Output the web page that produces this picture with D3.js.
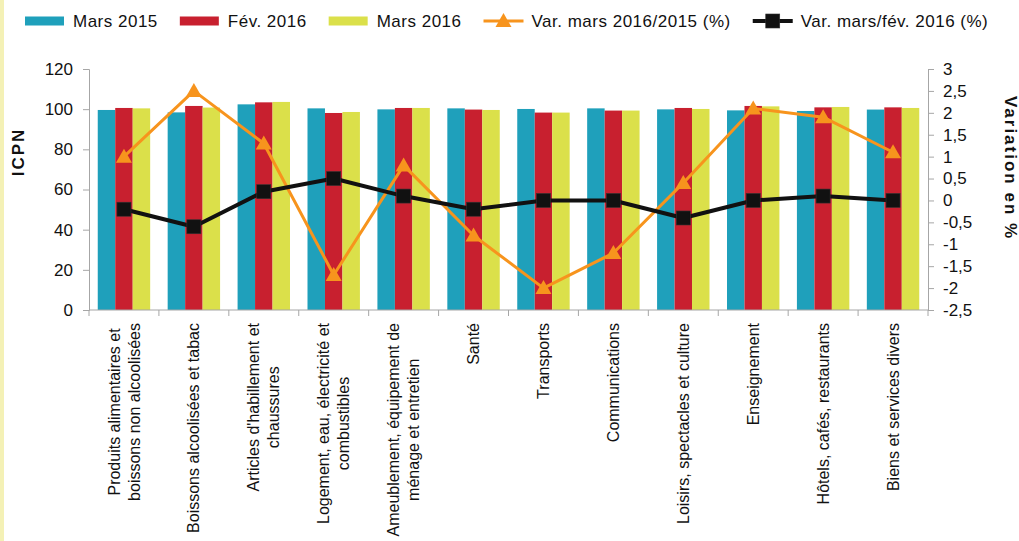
<!DOCTYPE html>
<html>
<head>
<meta charset="utf-8">
<script src="https://cdn.jsdelivr.net/npm/d3@7"></script>
<style>
  body { margin: 0; background: #fff; }
  svg { display: block; font-family: "Liberation Sans", Arial, sans-serif; }
</style>
</head>
<body>
<svg id="chart" width="1019" height="541"></svg>
<script>
var categories = [
    "Produits alimentaires et\nboissons non alcoolisées",
    "Boissons alcoolisées et tabac",
    "Articles d'habillement et\nchaussures",
    "Logement, eau, électricité et\ncombustibles",
    "Ameublement, équipement de\nménage et entretien",
    "Santé",
    "Transports",
    "Communications",
    "Loisirs, spectacles et culture",
    "Enseignement",
    "Hôtels, cafés, restaurants",
    "Biens et services divers"
];
var mars2015 = [99.6, 98.4, 102.4, 100.4, 99.9, 100.4, 100.1, 100.4, 99.9, 99.4, 99.1, 99.8];
var fev2016 = [100.6, 101.6, 103.4, 98.1, 100.6, 99.8, 98.3, 99.3, 100.6, 101.6, 100.9, 100.9];
var mars2016 = [100.4, 100.8, 103.6, 98.6, 100.6, 99.6, 98.3, 99.3, 100.1, 101.4, 101.1, 100.6];
var varAnnuelle = [1.0, 2.5, 1.3, -1.7, 0.8, -0.8, -2.0, -1.2, 0.4, 2.1, 1.9, 1.1];
var varMensuelle = [-0.2, -0.6, 0.2, 0.5, 0.1, -0.2, 0.0, 0.0, -0.4, 0.0, 0.1, 0.0];
var leftTicks = [0, 20, 40, 60, 80, 100, 120];
var rightTicks = [-2.5, -2, -1.5, -1, -0.5, 0, 0.5, 1, 1.5, 2, 2.5, 3];

var barSeries = [
    { name: "Mars 2015", values: mars2015, color: "#1fa0bb" },
    { name: "Fév. 2016", values: fev2016, color: "#c8202f" },
    { name: "Mars 2016", values: mars2016, color: "#dbe04a" }
];
var lineSeries = [
    { name: "Var. mars 2016/2015 (%)", values: varAnnuelle, color: "#f7941d", width: 3, marker: "triangle" },
    { name: "Var. mars/fév. 2016 (%)", values: varMensuelle, color: "#111111", width: 4, marker: "square" }
];

var svg = d3.select("#chart"),
    axisColor = "#a6a6a6",
    plot = { x0: 89, x1: 928, y0: 69, y1: 310 };

function frNum(d) {
    return String(d).replace(".", ",");
}

// pale strip on the left edge
svg.append("rect").attr("x", 0).attr("y", 0).attr("width", 4).attr("height", 541).attr("fill", "#f4f1b6");

var x = d3.scaleBand().domain(d3.range(categories.length)).range([plot.x0, plot.x1]);
var xSub = d3.scaleBand().domain(d3.range(barSeries.length))
    .range([8.75, x.bandwidth() - 8.75]);
var yLeft = d3.scaleLinear().domain([0, 120]).range([plot.y1, plot.y0]);
var yRight = d3.scaleLinear().domain([-2.5, 3]).range([plot.y1, plot.y0]);

// bars
barSeries.forEach(function (s, si) {
    svg.append("g").selectAll("rect")
        .data(s.values)
        .join("rect")
        .attr("x", function (d, i) { return x(i) + xSub(si); })
        .attr("y", function (d) { return yLeft(d); })
        .attr("width", xSub.bandwidth())
        .attr("height", function (d) { return yLeft(0) - yLeft(d); })
        .attr("fill", s.color);
});

// left axis
var gl = svg.append("g")
    .attr("transform", "translate(" + plot.x0 + ",0)")
    .call(d3.axisLeft(yLeft).tickValues(leftTicks).tickSize(6).tickPadding(10));
// right axis
var gr = svg.append("g")
    .attr("transform", "translate(" + plot.x1 + ",0)")
    .call(d3.axisRight(yRight).tickValues(rightTicks).tickSize(6).tickPadding(9).tickFormat(frNum));
// x axis
var gx = svg.append("g")
    .attr("transform", "translate(0," + plot.y1 + ")");
gx.append("line").attr("x1", plot.x0).attr("x2", plot.x1).attr("stroke", axisColor);
gx.selectAll("line.tick")
    .data(d3.range(categories.length + 1))
    .join("line")
    .attr("class", "tick")
    .attr("x1", function (i) { return plot.x0 + i * x.step(); })
    .attr("x2", function (i) { return plot.x0 + i * x.step(); })
    .attr("y1", 0).attr("y2", 6)
    .attr("stroke", axisColor);

[gl, gr].forEach(function (g) {
    g.select(".domain").attr("stroke", axisColor);
    g.selectAll(".tick line").attr("stroke", axisColor);
    g.selectAll(".tick text").attr("font-size", 17).attr("fill", "#111").attr("font-family", "Liberation Sans, Arial, sans-serif");
});

// category labels, rotated, lines centered, block ending under the axis
categories.forEach(function (c, i) {
    var lines = c.split("\n"),
        cx = x(i) + x.bandwidth() / 2,
        pitch = 20,
        g = svg.append("g").attr("transform", "translate(" + cx + "," + (plot.y1 + 13) + ") rotate(-90)");
    var texts = lines.map(function (l, k) {
        return g.append("text")
            .attr("y", (k - (lines.length - 1) / 2) * pitch)
            .attr("dy", "0.35em")
            .attr("text-anchor", "middle")
            .attr("font-size", 16)
            .attr("fill", "#111")
            .text(l);
    });
    var maxW = d3.max(texts, function (t) { return t.node().getComputedTextLength(); });
    texts.forEach(function (t) { t.attr("x", -maxW / 2); });
});

// lines and markers
function drawMarker(g, type, color, cx, cy) {
    if (type === "triangle") {
        g.append("path")
            .attr("d", "M" + cx + "," + (cy - 8) + "L" + (cx + 8) + "," + (cy + 6) + "L" + (cx - 8) + "," + (cy + 6) + "Z")
            .attr("fill", color);
    } else {
        g.append("rect")
            .attr("x", cx - 7).attr("y", cy - 7)
            .attr("width", 14).attr("height", 14)
            .attr("fill", color).attr("stroke", "#333").attr("stroke-width", 0.6);
    }
}

lineSeries.forEach(function (s) {
    var g = svg.append("g");
    var line = d3.line()
        .x(function (d, i) { return x(i) + x.bandwidth() / 2; })
        .y(function (d) { return yRight(d); });
    g.append("path")
        .attr("d", line(s.values))
        .attr("fill", "none")
        .attr("stroke", s.color)
        .attr("stroke-width", s.width)
        .attr("stroke-linejoin", "round");
    s.values.forEach(function (d, i) {
        drawMarker(g, s.marker, s.color, x(i) + x.bandwidth() / 2, yRight(d));
    });
});

// axis titles
svg.append("text")
    .attr("transform", "translate(24,152) rotate(-90)")
    .attr("text-anchor", "middle")
    .attr("font-size", 17).attr("font-weight", "bold").attr("letter-spacing", 2)
    .attr("fill", "#111")
    .text("ICPN");
svg.append("text")
    .attr("transform", "translate(1005,168) rotate(90)")
    .attr("text-anchor", "middle")
    .attr("font-size", 17).attr("font-weight", "bold").attr("letter-spacing", 2)
    .attr("fill", "#111")
    .text("Variation en %");

// legend
var legend = svg.append("g"),
    lx = 25, ly = 21;
barSeries.concat(lineSeries).forEach(function (s) {
    var isLine = !!s.marker;
    if (isLine) {
        legend.append("line")
            .attr("x1", lx).attr("x2", lx + 40).attr("y1", ly).attr("y2", ly)
            .attr("stroke", s.color).attr("stroke-width", s.width);
        drawMarker(legend, s.marker, s.color, lx + 20, ly);
    } else {
        legend.append("rect")
            .attr("x", lx).attr("y", ly - 4.5).attr("width", 39).attr("height", 9)
            .attr("fill", s.color);
    }
    var t = legend.append("text")
        .attr("x", lx + 48).attr("y", ly + 6)
        .attr("font-size", 17).attr("letter-spacing", 0.5)
        .attr("fill", "#111")
        .text(s.name);
    lx += 48 + t.node().getComputedTextLength() + 22;
});
</script>
</body>
</html>
